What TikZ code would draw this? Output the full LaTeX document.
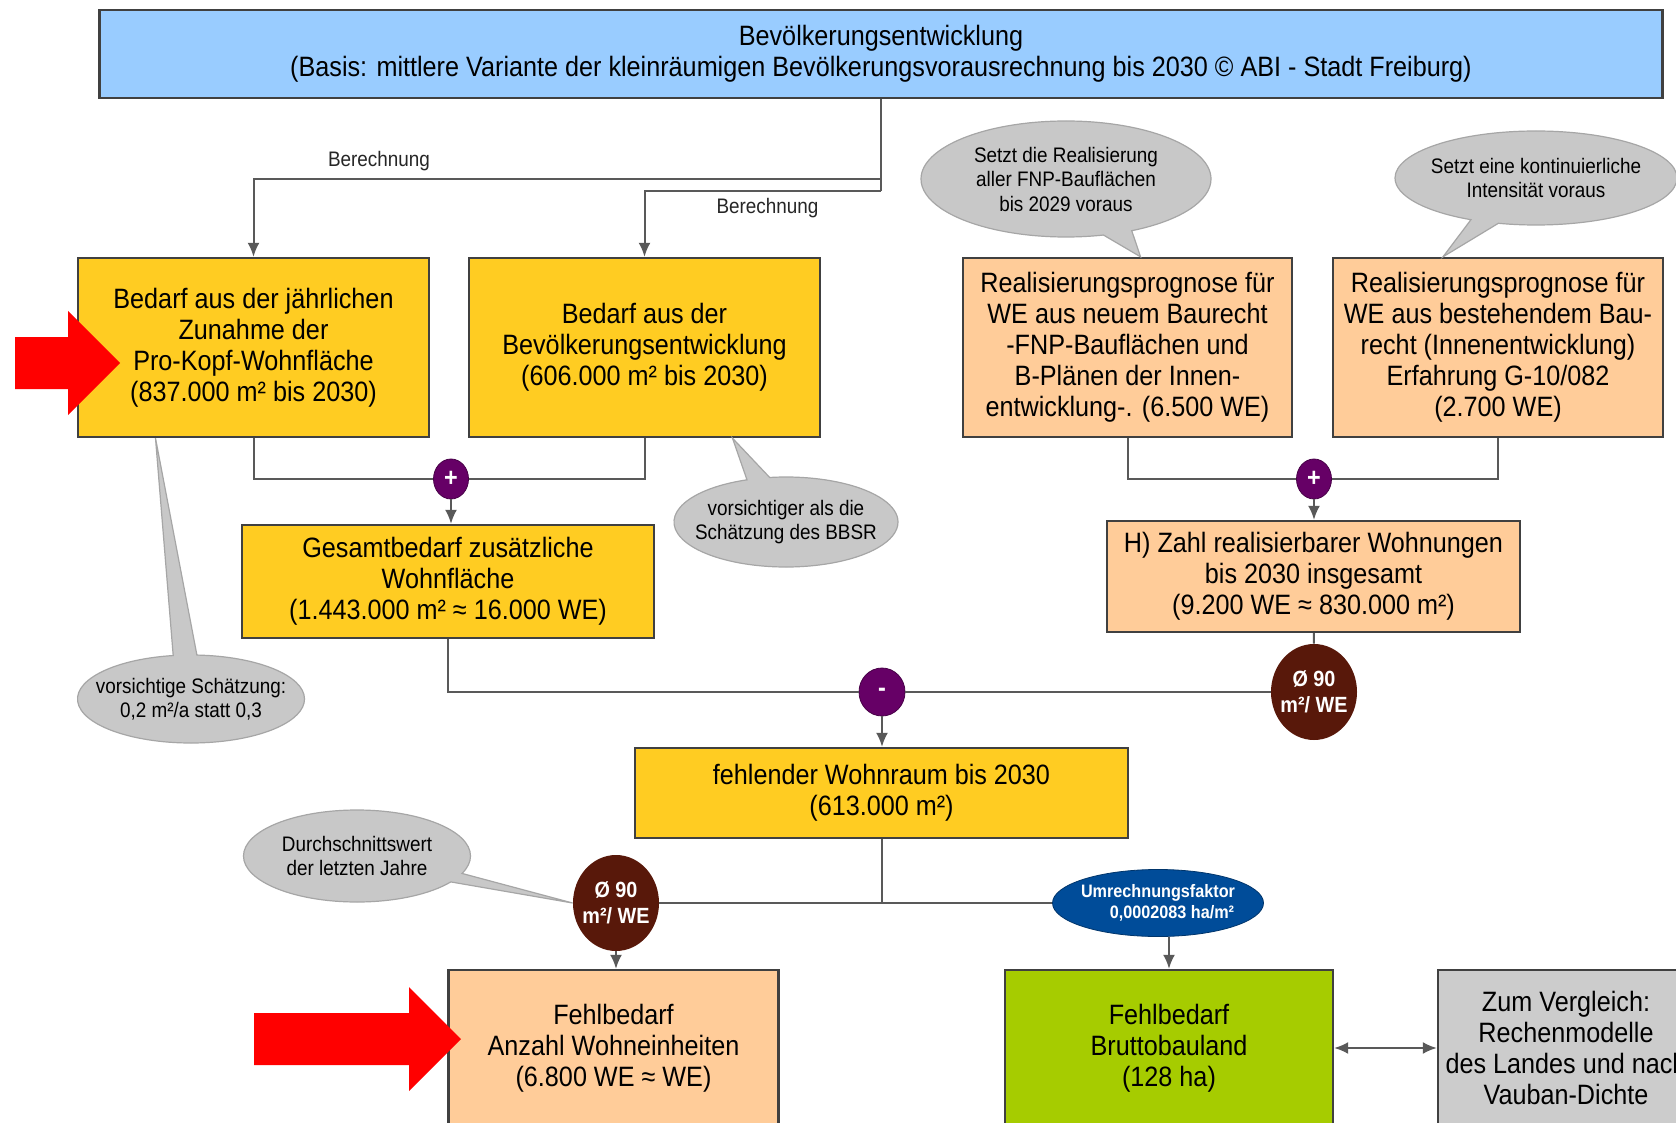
\documentclass[tikz,border=0pt]{standalone}
\usepackage{fontspec}
\setmainfont{Liberation Sans}[FakeStretch=0.9]
\usetikzlibrary{arrows.meta,shapes.geometric,shapes.callouts,calc}

\definecolor{popblue}{RGB}{153,204,255}
\definecolor{needyellow}{RGB}{255,204,34}
\definecolor{weorange}{RGB}{255,204,153}
\definecolor{landgreen}{RGB}{166,204,0}
\definecolor{cmpgray}{RGB}{204,204,204}
\definecolor{notegray}{RGB}{200,200,200}
\definecolor{oppurple}{RGB}{102,0,102}
\definecolor{avgbrown}{RGB}{88,24,10}
\definecolor{facblue}{RGB}{0,76,153}

\tikzset{
  box/.style={draw=black!75, line width=1.2pt, align=center, inner sep=2pt,
    font=\fontsize{14}{15.5}\selectfont},
  link/.style={draw=black!65, line width=1pt},
  op/.style={ellipse, fill=oppurple, draw=oppurple!70!black, inner sep=0pt,
    minimum width=17.5pt, minimum height=20pt, text=white,
    font=\bfseries\fontsize{13}{13}\selectfont},
  avg/.style={ellipse, fill=avgbrown, inner sep=0pt, inner xsep=-5pt, align=center,
    minimum width=43pt, minimum height=48pt, text=white,
    font=\bfseries\fontsize{11}{13}\selectfont},
  fac/.style={ellipse, fill=facblue, draw=facblue!70!black, inner sep=0pt, inner xsep=-4pt,
    align=center, minimum width=105.5pt, minimum height=33.5pt, text=white,
    font=\bfseries\fontsize{9}{10.5}\selectfont},
  note/.style={ellipse callout, fill=notegray, draw=black!35, line width=0.6pt,
    inner sep=0pt, inner xsep=-12pt, inner ysep=-3pt, align=center,
    callout pointer arc=12, font=\fontsize{10.5}{12.25}\selectfont},
  lbl/.style={font=\fontsize{10.5}{12}\selectfont, text=black!85},
  >={Latex[length=7pt,width=6pt]}
}

\begin{document}
\begin{tikzpicture}[x=0.5pt, y=-0.5pt]
  \useasboundingbox (0,0) rectangle (1676,1123);
  \clip (0,0) rectangle (1676,1123);
  \fill[white] (0,0) rectangle (1676,1123);

  % boxes
  \node[box, fill=popblue, minimum width=781.5pt, minimum height=44pt] (bev) at (881,54)
    {Bevölkerungsentwicklung\\(Basis: mittlere Variante der kleinräumigen Bevölkerungsvorausrechnung bis 2030 © ABI - Stadt Freiburg)};
  \node[box, fill=needyellow, minimum width=175.5pt, minimum height=89.5pt] (kopf) at (253.5,347.5)
    {Bedarf aus der jährlichen\\Zunahme der\\Pro-Kopf-Wohnfläche\\(837.000 m² bis 2030)};
  \node[box, fill=needyellow, minimum width=175.5pt, minimum height=89.5pt] (bed) at (644.5,347.5)
    {Bedarf aus der\\Bevölkerungsentwicklung\\(606.000 m² bis 2030)};
  \node[box, fill=weorange, minimum width=164.5pt, minimum height=89.5pt] (neu) at (1127.5,347.5)
    {Realisierungsprognose für\\WE aus neuem Baurecht\\-FNP-Bauflächen und\\B-Plänen der Innen-\\entwicklung-. (6.500 WE)};
  \node[box, fill=weorange, minimum width=165pt, minimum height=89.5pt] (best) at (1498,347.5)
    {Realisierungsprognose für\\WE aus bestehendem Bau-\\recht (Innenentwicklung)\\Erfahrung G-10/082\\(2.700 WE)};
  \node[box, fill=needyellow, minimum width=206pt, minimum height=56.5pt] (ges) at (448,581.5)
    {Gesamtbedarf zusätzliche\\Wohnfläche\\(1.443.000 m² ≈ 16.000 WE)};
  \node[box, fill=weorange, minimum width=206.5pt, minimum height=55.5pt] (zahl) at (1313.5,576.5)
    {H) Zahl realisierbarer Wohnungen\\bis 2030 insgesamt\\(9.200 WE ≈ 830.000 m²)};
  \node[box, fill=needyellow, minimum width=246.5pt, minimum height=45pt] (fehl) at (881.5,793)
    {fehlender Wohnraum bis 2030\\(613.000 m²)};
  \node[box, fill=weorange, minimum width=165pt, minimum height=78pt] (anz) at (613.5,1048)
    {Fehlbedarf\\Anzahl Wohneinheiten\\(6.800 WE ≈ WE)};
  \node[box, fill=landgreen, minimum width=164pt, minimum height=78pt] (brut) at (1169,1048)
    {Fehlbedarf\\Bruttobauland\\(128 ha)};
  \node[box, fill=cmpgray, minimum width=128pt, minimum height=78pt] (vgl) at (1566,1048)
    {Zum Vergleich:\\Rechenmodelle\\des Landes und nach\\Vauban-Dichte};

  % operators
  \node[op] (plus1) at (451,479) {+};
  \node[op] (plus2) at (1314,479) {+};
  \node[op, minimum width=23pt, minimum height=24pt] (minus) at (882,692) {-};
  \node[avg] (avg1) at (1314,692) {Ø 90\\m²/ WE};
  \node[avg] (avg2) at (616,903) {Ø 90\\m²/ WE};
  \node[fac] (umr) at (1158,903) {Umrechnungsfaktor\\\hspace*{14pt}0,0002083 ha/m²};

  % connectors
  \coordinate (r1) at (881,179);
  \coordinate (r2) at (881,191);
  \draw[link] (bev.south) -- (r2);
  \draw[link,->] (r1) -| node[pos=0.4, above, lbl] {Berechnung} (kopf.north);
  \draw[link,->] (r2) -| node[pos=0.24, below, lbl] {Berechnung} (bed.north);
  \draw[link] (kopf.south) |- (plus1);
  \draw[link] (bed.south) |- (plus1);
  \draw[link,->] (plus1) -- (plus1 |- ges.north);
  \draw[link] (neu.south) |- (plus2);
  \draw[link] (best.south) |- (plus2);
  \draw[link,->] (plus2) -- (plus2 |- zahl.north);
  \draw[link] (ges.south) |- (minus);
  \draw[link] (zahl) -- (avg1);
  \draw[link] (avg1) -- (minus);
  \draw[link,->] (minus) -- (minus |- fehl.north);
  \draw[link] (fehl) -- (fehl.south |- avg2);
  \draw[link] (avg2) -- (umr);
  \draw[link,->] (avg2) -- (avg2 |- anz.north);
  \draw[link,->] (brut.north |- umr.south) -- (brut.north);
  \draw[link,<->] (brut) -- (vgl);

  % notes
  \node[note, minimum width=145pt, minimum height=58pt,
    callout absolute pointer={($(neu.north)+(13,0)$)}] (n1) at (1066,179)
    {Setzt die Realisierung\\aller FNP-Bauflächen\\bis 2029 voraus};
  \node[note, minimum width=141pt, minimum height=47pt,
    callout absolute pointer={($(best.north)+(-55,0)$)}] (n2) at (1536,178)
    {Setzt eine kontinuierliche\\Intensität voraus};
  \node[note, minimum width=112pt, minimum height=45pt,
    callout absolute pointer={($(bed.south)+(88,0)$)}] (n3) at (786,522)
    {vorsichtiger als die\\Schätzung des BBSR};
  \node[note, minimum width=113.5pt, minimum height=44pt,
    callout absolute pointer={($(kopf.south)+(-98,0)$)}] (n4) at (191,699)
    {vorsichtige Schätzung:\\0,2 m²/a statt 0,3};
  \node[note, minimum width=113.5pt, minimum height=46pt,
    callout absolute pointer={(avg2.west)}] (n5) at (357,856)
    {Durchschnittswert\\der letzten Jahre};

  % red markers
  \fill[red] (15,337) -- (68,337) -- (68,311) -- (120,363) -- (68,415) -- (68,389) -- (15,389) -- cycle;
  \fill[red] (254,1013) -- (409,1013) -- (409,987) -- (461,1039) -- (409,1091) -- (409,1065) -- (254,1065) -- cycle;
\end{tikzpicture}
\end{document}
